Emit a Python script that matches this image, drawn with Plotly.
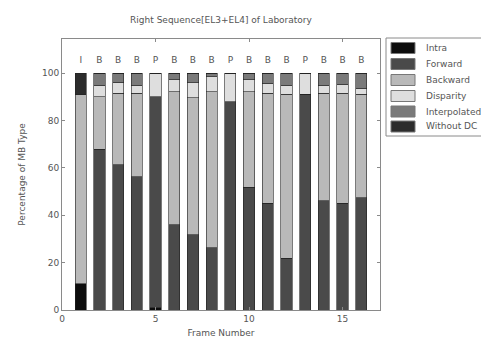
import plotly.graph_objects as go

frames = list(range(1, 17))
frame_types = ["I", "B", "B", "B", "P", "B", "B", "B", "P", "B", "B", "B", "P", "B", "B", "B"]

intra        = [11, 0, 0, 0, 1, 0, 0, 0, 0, 0, 0, 0, 0, 0, 0, 0]
forward      = [0, 68, 61.3, 56.4, 89.2, 36, 31.8, 26.2, 88, 51.8, 45.1, 21.9, 91.1, 46.1, 45.1, 47.5]
backward     = [80, 22.1, 30.3, 35.2, 0, 56.3, 57.9, 66.1, 0, 40.5, 46.5, 69.2, 0, 45.5, 46.5, 43.6]
disparity    = [0, 4.9, 4.6, 3.4, 9.8, 4.9, 6.3, 6.3, 12, 4.9, 4.2, 3.9, 8.9, 3.4, 3.8, 2.6]
interpolated = [0, 5, 3.8, 5, 0, 2.8, 4, 1.4, 0, 2.8, 4.2, 5, 0, 5, 4.6, 6.3]
without_dc   = [9, 0, 0, 0, 0, 0, 0, 0, 0, 0, 0, 0, 0, 0, 0, 0]

series_names = ["Intra", "Forward", "Backward", "Disparity", "Interpolated", "Without DC"]
series_values = [intra, forward, backward, disparity, interpolated, without_dc]
series_colors = ["#0d0d0d", "#4a4a4a", "#b9b9b9", "#dedede", "#7a7a7a", "#2c2c2c"]

label_height = 105.5

W, H = 489, 343
L, R, T, B = 54, 117, 31, 41
plot_w = W - L - R
plot_h = H - T - B

fig = go.Figure()
for name, vals, col in zip(series_names, series_values, series_colors):
    fig.add_trace(go.Bar(
        x=frames, y=vals, name=name, width=0.6, showlegend=False,
        marker=dict(color=col, line=dict(color="#222222", width=0.6)),
    ))

fig.add_trace(go.Scatter(
    x=frames, y=[label_height] * len(frames), mode="text", text=frame_types,
    textfont=dict(size=9, color="#555555", family="DejaVu Sans"),
    showlegend=False, hoverinfo="skip",
))

# Custom legend box (decoration, in paper coordinates)
def px_x(p):
    return (p - L) / plot_w

def px_y(p):
    return (H - B - p) / plot_h

shapes = [dict(type="rect", xref="paper", yref="paper",
               x0=px_x(378), x1=px_x(495), y0=px_y(128), y1=px_y(30),
               line=dict(color="#8a8a8a", width=1), fillcolor="white", layer="above")]
annotations = []
row_centers = [40, 56, 72, 88, 103.5, 118.5]
for name, col, cy in zip(series_names, series_colors, row_centers):
    shapes.append(dict(type="rect", xref="paper", yref="paper",
                       x0=px_x(383), x1=px_x(407), y0=px_y(cy + 5.5), y1=px_y(cy - 5.5),
                       line=dict(color="#777777", width=1), fillcolor=col, layer="above"))
    annotations.append(dict(xref="paper", yref="paper", x=px_x(416), y=px_y(cy),
                            xanchor="left", yanchor="middle", text=name, showarrow=False,
                            font=dict(size=9, color="#555555", family="DejaVu Sans")))

axis_common = dict(
    showgrid=False, zeroline=False, showline=True, linecolor="#8a8a8a", linewidth=1,
    mirror="ticks", ticks="inside", ticklen=3, tickcolor="#8a8a8a",
    tickfont=dict(size=9, color="#555555", family="DejaVu Sans"),
)

fig.update_layout(
    width=W, height=H,
    barmode="stack",
    plot_bgcolor="white", paper_bgcolor="white",
    margin=dict(l=L, r=R, t=T, b=B),
    font=dict(family="DejaVu Sans", color="#555555", size=9),
    title=dict(text="Right Sequence[EL3+EL4] of Laboratory", x=(54 + 372) / 2 / W, xanchor="center",
               y=1 - 12 / H, yanchor="middle", font=dict(size=9, color="#555555")),
    xaxis=dict(range=[0, 17], tickvals=[0, 5, 10, 15],
               title=dict(text="Frame Number", font=dict(size=9, color="#555555"), standoff=6),
               **axis_common),
    yaxis=dict(range=[0, 114.5], tickvals=[0, 20, 40, 60, 80, 100],
               title=dict(text="Percentage of MB Type", font=dict(size=9, color="#555555"), standoff=14),
               **axis_common),
    shapes=shapes,
    annotations=annotations,
    showlegend=False,
)

fig.write_html("out.html")
